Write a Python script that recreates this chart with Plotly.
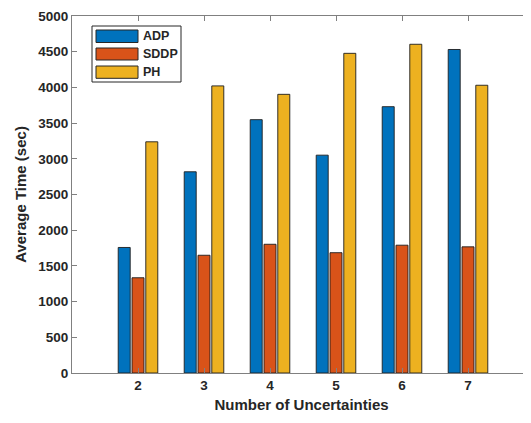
import plotly.graph_objects as go

categories = [2, 3, 4, 5, 6, 7]
adp = [1758, 2818, 3548, 3051, 3730, 4531]
sddp = [1334, 1649, 1803, 1685, 1790, 1767]
ph = [3238, 4021, 3903, 4477, 4604, 4030]
series_names = ["ADP", "SDDP", "PH"]
colors = ["#0072BD", "#D95319", "#EDB120"]
y_ticks = [0, 500, 1000, 1500, 2000, 2500, 3000, 3500, 4000, 4500, 5000]

FONT = "Liberation Sans, Arial, sans-serif"
TXT = "#262626"
# page has an 8px body margin: figure occupies page x 8..531, y 8..413
OFF = 8
FW, FH = 523, 405
ML, MT, MR, MB = 72 - OFF, 8, 0, FH - (373 - OFF)
W, H = FW - ML - MR, FH - MT - MB

fig = go.Figure()
for name, vals, col in zip(series_names, [adp, sddp, ph], colors):
    fig.add_trace(go.Bar(x=categories, y=vals, name=name, marker_color=col,
                         marker_line=dict(color="rgba(30,30,30,0.9)", width=1),
                         showlegend=False))

# custom MATLAB-style legend (page pixel positions -> paper coords)
def px(x):
    return (x - OFF - ML) / W
def py(y):
    return (MT + H - (y - OFF)) / H

shapes = [dict(type="rect", xref="paper", yref="paper",
               x0=px(92), x1=px(181), y0=py(82), y1=py(26),
               line=dict(color=TXT, width=1), fillcolor="white", layer="above")]
annotations = []
rows = [(30, 42.5), (48, 60), (66, 78.3)]
for (ya, yb), name, col in zip(rows, series_names, colors):
    shapes.append(dict(type="rect", xref="paper", yref="paper",
                       x0=px(96), x1=px(138), y0=py(yb), y1=py(ya),
                       line=dict(color=TXT, width=1), fillcolor=col, layer="above"))
    annotations.append(dict(xref="paper", yref="paper", x=px(141), y=py((ya + yb) / 2),
                            text="<b>%s</b>" % name, showarrow=False,
                            xanchor="left", yanchor="middle",
                            font=dict(family=FONT, size=12.5, color=TXT)))

fig.update_layout(
    width=FW, height=FH,
    margin=dict(l=ML, r=MR, t=MT, b=MB, pad=0),
    paper_bgcolor="white", plot_bgcolor="white",
    barmode="group", bargap=0.373, bargroupgap=0.13,
    font=dict(family=FONT, size=13.5, color=TXT),
    shapes=shapes, annotations=annotations,
    xaxis=dict(range=[1, 1 + W / 66.0], tickvals=categories,
               ticktext=["<b>%d</b>" % c for c in categories],
               ticks="inside", ticklen=5, tickcolor="#808080", showline=True,
               linecolor="#808080", linewidth=1, mirror="ticks", showgrid=False,
               zeroline=False, automargin=False,
               tickfont=dict(family=FONT, size=13.5, color=TXT),
               title=dict(text="<b>Number of Uncertainties</b>", standoff=7,
                          font=dict(family=FONT, size=15, color=TXT))),
    yaxis=dict(range=[0, 5000], tickvals=y_ticks,
               ticktext=["<b>%d</b>" % v for v in y_ticks],
               ticks="inside", ticklen=5, tickcolor="#808080", showline=True,
               linecolor="#808080", linewidth=1, mirror=False, showgrid=False,
               zeroline=False, automargin=False,
               tickfont=dict(family=FONT, size=13.5, color=TXT),
               title=dict(text="<b>Average Time (sec)</b>", standoff=8,
                          font=dict(family=FONT, size=15, color=TXT))),
)
fig.write_html("out.html")
